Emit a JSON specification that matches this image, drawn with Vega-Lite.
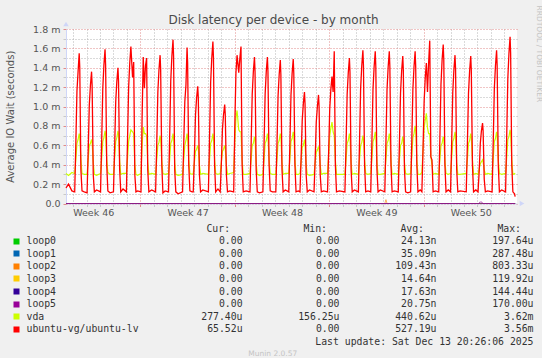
{
"$schema":"https://vega.github.io/schema/vega-lite/v6.json",
"background":"#f0f0f0",
"padding":{"left":4,"top":5,"right":0,"bottom":0},
"config":{"view":{"stroke":null}},
"spacing":6,
"datasets":{
"main":[
{"t":"2025-11-10T11:30Z","lv":0.16,"vda":0.31},{"t":"2025-11-10T16:00Z","lv":0.2,"vda":0.29},{"t":"2025-11-10T22:00Z","lv":0.13,"vda":0.32},
{"t":"2025-11-11T03:00Z","lv":0.12,"vda":0.31},{"t":"2025-11-11T05:00Z","lv":0.62,"vda":0.45},{"t":"2025-11-11T07:00Z","lv":1.16,"vda":0.62},{"t":"2025-11-11T09:00Z","lv":1.36,"vda":0.66},{"t":"2025-11-11T11:00Z","lv":1.55,"vda":0.72},{"t":"2025-11-11T12:00Z","lv":1.4,"vda":0.68},{"t":"2025-11-11T14:00Z","lv":0.35,"vda":0.45},{"t":"2025-11-11T16:00Z","lv":0.13,"vda":0.31},{"t":"2025-11-11T20:00Z","lv":0.12,"vda":0.3},
{"t":"2025-11-12T01:00Z","lv":0.11,"vda":0.3},{"t":"2025-11-12T03:00Z","lv":0.54,"vda":0.45},{"t":"2025-11-12T05:00Z","lv":1.02,"vda":0.6},{"t":"2025-11-12T07:00Z","lv":1.22,"vda":0.62},{"t":"2025-11-12T09:00Z","lv":1.36,"vda":0.66},{"t":"2025-11-12T10:00Z","lv":1.22,"vda":0.63},{"t":"2025-11-12T12:00Z","lv":0.3,"vda":0.42},{"t":"2025-11-12T14:00Z","lv":0.12,"vda":0.3},{"t":"2025-11-12T18:00Z","lv":0.14,"vda":0.29},
{"t":"2025-11-13T01:00Z","lv":0.12,"vda":0.31},{"t":"2025-11-13T03:00Z","lv":0.64,"vda":0.46},{"t":"2025-11-13T05:00Z","lv":1.19,"vda":0.64},{"t":"2025-11-13T07:00Z","lv":1.43,"vda":0.68},{"t":"2025-11-13T09:00Z","lv":1.59,"vda":0.75},{"t":"2025-11-13T10:00Z","lv":1.43,"vda":0.71},{"t":"2025-11-13T12:00Z","lv":0.4,"vda":0.45},{"t":"2025-11-13T14:00Z","lv":0.13,"vda":0.32},{"t":"2025-11-13T18:00Z","lv":0.11,"vda":0.3},
{"t":"2025-11-14T00:00Z","lv":0.12,"vda":0.3},{"t":"2025-11-14T02:00Z","lv":0.56,"vda":0.46},{"t":"2025-11-14T04:00Z","lv":1.05,"vda":0.64},{"t":"2025-11-14T06:00Z","lv":1.26,"vda":0.68},{"t":"2025-11-14T08:00Z","lv":1.4,"vda":0.75},{"t":"2025-11-14T09:00Z","lv":1.26,"vda":0.71},{"t":"2025-11-14T11:00Z","lv":0.35,"vda":0.44},{"t":"2025-11-14T13:00Z","lv":0.12,"vda":0.3},{"t":"2025-11-14T17:00Z","lv":0.15,"vda":0.31},
{"t":"2025-11-14T23:00Z","lv":0.12,"vda":0.31},{"t":"2025-11-15T01:00Z","lv":0.65,"vda":0.46},{"t":"2025-11-15T03:00Z","lv":1.2,"vda":0.64},{"t":"2025-11-15T05:00Z","lv":1.45,"vda":0.7},{"t":"2025-11-15T07:00Z","lv":1.62,"vda":0.76},{"t":"2025-11-15T10:00Z","lv":1.3,"vda":0.74},{"t":"2025-11-15T12:00Z","lv":1.46,"vda":0.72},{"t":"2025-11-15T14:00Z","lv":0.3,"vda":0.4},{"t":"2025-11-15T16:00Z","lv":0.12,"vda":0.3},{"t":"2025-11-15T19:00Z","lv":0.13,"vda":0.29},
{"t":"2025-11-16T01:00Z","lv":0.12,"vda":0.31},{"t":"2025-11-16T03:00Z","lv":0.9,"vda":0.6},{"t":"2025-11-16T05:00Z","lv":1.51,"vda":0.79},{"t":"2025-11-16T07:00Z","lv":1.19,"vda":0.72},{"t":"2025-11-16T09:00Z","lv":1.42,"vda":0.72},{"t":"2025-11-16T11:00Z","lv":1.5,"vda":0.7},{"t":"2025-11-16T13:00Z","lv":0.35,"vda":0.42},{"t":"2025-11-16T15:00Z","lv":0.12,"vda":0.3},{"t":"2025-11-16T20:00Z","lv":0.14,"vda":0.31},
{"t":"2025-11-17T03:00Z","lv":0.12,"vda":0.3},{"t":"2025-11-17T05:00Z","lv":0.61,"vda":0.45},{"t":"2025-11-17T07:00Z","lv":1.15,"vda":0.6},{"t":"2025-11-17T09:00Z","lv":1.38,"vda":0.63},{"t":"2025-11-17T11:00Z","lv":1.53,"vda":0.7},{"t":"2025-11-17T12:00Z","lv":1.38,"vda":0.66},{"t":"2025-11-17T14:00Z","lv":0.4,"vda":0.44},{"t":"2025-11-17T16:00Z","lv":0.11,"vda":0.31},{"t":"2025-11-17T20:00Z","lv":0.13,"vda":0.3},
{"t":"2025-11-18T02:00Z","lv":0.12,"vda":0.31},{"t":"2025-11-18T04:00Z","lv":0.68,"vda":0.45},{"t":"2025-11-18T06:00Z","lv":1.27,"vda":0.62},{"t":"2025-11-18T08:00Z","lv":1.52,"vda":0.65},{"t":"2025-11-18T10:00Z","lv":1.69,"vda":0.72},{"t":"2025-11-18T11:00Z","lv":1.52,"vda":0.68},{"t":"2025-11-18T13:00Z","lv":0.35,"vda":0.42},{"t":"2025-11-18T15:00Z","lv":0.12,"vda":0.3},{"t":"2025-11-18T19:00Z","lv":0.1,"vda":0.29},
{"t":"2025-11-19T03:00Z","lv":0.12,"vda":0.3},{"t":"2025-11-19T05:00Z","lv":0.6,"vda":0.45},{"t":"2025-11-19T07:00Z","lv":1.05,"vda":0.6},{"t":"2025-11-19T09:00Z","lv":1.22,"vda":0.65},{"t":"2025-11-19T11:00Z","lv":1.61,"vda":0.72},{"t":"2025-11-19T12:00Z","lv":1.45,"vda":0.68},{"t":"2025-11-19T14:00Z","lv":0.4,"vda":0.45},{"t":"2025-11-19T16:00Z","lv":0.13,"vda":0.31},{"t":"2025-11-19T20:00Z","lv":0.12,"vda":0.3},
{"t":"2025-11-19T22:00Z","lv":0.12,"vda":0.31},{"t":"2025-11-20T00:00Z","lv":0.48,"vda":0.42},{"t":"2025-11-20T02:00Z","lv":0.91,"vda":0.54},{"t":"2025-11-20T04:00Z","lv":1.09,"vda":0.56},{"t":"2025-11-20T06:00Z","lv":1.21,"vda":0.6},{"t":"2025-11-20T07:00Z","lv":1.09,"vda":0.57},{"t":"2025-11-20T09:00Z","lv":0.3,"vda":0.4},{"t":"2025-11-20T11:00Z","lv":0.12,"vda":0.3},{"t":"2025-11-20T15:00Z","lv":0.14,"vda":0.31},
{"t":"2025-11-21T01:00Z","lv":0.12,"vda":0.3},{"t":"2025-11-21T03:00Z","lv":0.67,"vda":0.45},{"t":"2025-11-21T05:00Z","lv":1.25,"vda":0.62},{"t":"2025-11-21T07:00Z","lv":1.5,"vda":0.65},{"t":"2025-11-21T09:00Z","lv":1.67,"vda":0.72},{"t":"2025-11-21T10:00Z","lv":1.5,"vda":0.68},{"t":"2025-11-21T12:00Z","lv":0.4,"vda":0.45},{"t":"2025-11-21T14:00Z","lv":0.12,"vda":0.31},{"t":"2025-11-21T18:00Z","lv":0.15,"vda":0.3},
{"t":"2025-11-21T22:00Z","lv":0.12,"vda":0.31},{"t":"2025-11-22T00:00Z","lv":0.41,"vda":0.42},{"t":"2025-11-22T02:00Z","lv":0.77,"vda":0.54},{"t":"2025-11-22T04:00Z","lv":0.92,"vda":0.56},{"t":"2025-11-22T06:00Z","lv":1.02,"vda":0.6},{"t":"2025-11-22T07:00Z","lv":0.92,"vda":0.57},{"t":"2025-11-22T09:00Z","lv":0.3,"vda":0.4},{"t":"2025-11-22T11:00Z","lv":0.12,"vda":0.3},{"t":"2025-11-22T15:00Z","lv":0.13,"vda":0.31},
{"t":"2025-11-22T22:00Z","lv":0.12,"vda":0.32},{"t":"2025-11-23T00:00Z","lv":0.8,"vda":0.65},{"t":"2025-11-23T02:00Z","lv":1.35,"vda":0.88},{"t":"2025-11-23T04:00Z","lv":1.53,"vda":0.96},{"t":"2025-11-23T07:00Z","lv":1.35,"vda":0.76},{"t":"2025-11-23T09:00Z","lv":1.5,"vda":0.74},{"t":"2025-11-23T11:00Z","lv":1.62,"vda":0.74},{"t":"2025-11-23T13:00Z","lv":0.4,"vda":0.45},{"t":"2025-11-23T15:00Z","lv":0.12,"vda":0.3},{"t":"2025-11-23T20:00Z","lv":0.13,"vda":0.3},
{"t":"2025-11-24T03:00Z","lv":0.12,"vda":0.31},{"t":"2025-11-24T05:00Z","lv":0.6,"vda":0.45},{"t":"2025-11-24T07:00Z","lv":1.13,"vda":0.6},{"t":"2025-11-24T09:00Z","lv":1.36,"vda":0.62},{"t":"2025-11-24T11:00Z","lv":1.51,"vda":0.69},{"t":"2025-11-24T12:00Z","lv":1.36,"vda":0.66},{"t":"2025-11-24T14:00Z","lv":0.35,"vda":0.42},{"t":"2025-11-24T16:00Z","lv":0.12,"vda":0.3},{"t":"2025-11-24T20:00Z","lv":0.11,"vda":0.29},
{"t":"2025-11-25T02:00Z","lv":0.12,"vda":0.3},{"t":"2025-11-25T04:00Z","lv":0.6,"vda":0.45},{"t":"2025-11-25T06:00Z","lv":1.13,"vda":0.62},{"t":"2025-11-25T08:00Z","lv":1.36,"vda":0.65},{"t":"2025-11-25T10:00Z","lv":1.51,"vda":0.72},{"t":"2025-11-25T11:00Z","lv":1.36,"vda":0.68},{"t":"2025-11-25T13:00Z","lv":0.4,"vda":0.45},{"t":"2025-11-25T15:00Z","lv":0.13,"vda":0.31},{"t":"2025-11-25T19:00Z","lv":0.12,"vda":0.3},
{"t":"2025-11-26T01:00Z","lv":0.12,"vda":0.3},{"t":"2025-11-26T03:00Z","lv":0.59,"vda":0.45},{"t":"2025-11-26T05:00Z","lv":1.11,"vda":0.62},{"t":"2025-11-26T07:00Z","lv":1.33,"vda":0.65},{"t":"2025-11-26T09:00Z","lv":1.48,"vda":0.72},{"t":"2025-11-26T10:00Z","lv":1.33,"vda":0.68},{"t":"2025-11-26T12:00Z","lv":0.35,"vda":0.42},{"t":"2025-11-26T14:00Z","lv":0.12,"vda":0.3},{"t":"2025-11-26T18:00Z","lv":0.14,"vda":0.31},
{"t":"2025-11-27T00:00Z","lv":0.12,"vda":0.31},{"t":"2025-11-27T02:00Z","lv":0.6,"vda":0.46},{"t":"2025-11-27T04:00Z","lv":1.12,"vda":0.64},{"t":"2025-11-27T06:00Z","lv":1.34,"vda":0.67},{"t":"2025-11-27T08:00Z","lv":1.49,"vda":0.74},{"t":"2025-11-27T09:00Z","lv":1.34,"vda":0.7},{"t":"2025-11-27T11:00Z","lv":0.4,"vda":0.45},{"t":"2025-11-27T13:00Z","lv":0.12,"vda":0.3},{"t":"2025-11-27T17:00Z","lv":0.13,"vda":0.3},
{"t":"2025-11-27T20:00Z","lv":0.12,"vda":0.31},{"t":"2025-11-27T22:00Z","lv":0.46,"vda":0.43},{"t":"2025-11-28T00:00Z","lv":0.86,"vda":0.58},{"t":"2025-11-28T02:00Z","lv":1.03,"vda":0.6},{"t":"2025-11-28T04:00Z","lv":1.15,"vda":0.66},{"t":"2025-11-28T05:00Z","lv":1.03,"vda":0.62},{"t":"2025-11-28T07:00Z","lv":0.3,"vda":0.4},{"t":"2025-11-28T09:00Z","lv":0.12,"vda":0.3},{"t":"2025-11-28T13:00Z","lv":0.14,"vda":0.29},
{"t":"2025-11-28T21:00Z","lv":0.12,"vda":0.3},{"t":"2025-11-28T23:00Z","lv":0.45,"vda":0.42},{"t":"2025-11-29T01:00Z","lv":0.84,"vda":0.53},{"t":"2025-11-29T03:00Z","lv":1.0,"vda":0.55},{"t":"2025-11-29T05:00Z","lv":1.12,"vda":0.59},{"t":"2025-11-29T06:00Z","lv":1.0,"vda":0.56},{"t":"2025-11-29T08:00Z","lv":0.3,"vda":0.4},{"t":"2025-11-29T10:00Z","lv":0.12,"vda":0.3},{"t":"2025-11-29T14:00Z","lv":0.13,"vda":0.31},
{"t":"2025-11-29T21:00Z","lv":0.12,"vda":0.31},{"t":"2025-11-29T23:00Z","lv":0.52,"vda":0.5},{"t":"2025-11-30T01:00Z","lv":0.98,"vda":0.7},{"t":"2025-11-30T03:00Z","lv":1.18,"vda":0.78},{"t":"2025-11-30T05:00Z","lv":1.31,"vda":0.84},{"t":"2025-11-30T07:00Z","lv":1.15,"vda":0.74},{"t":"2025-11-30T09:00Z","lv":1.57,"vda":0.7},{"t":"2025-11-30T11:00Z","lv":0.4,"vda":0.45},{"t":"2025-11-30T13:00Z","lv":0.12,"vda":0.3},{"t":"2025-11-30T18:00Z","lv":0.13,"vda":0.3},
{"t":"2025-12-01T04:00Z","lv":0.12,"vda":0.3},{"t":"2025-12-01T06:00Z","lv":0.6,"vda":0.45},{"t":"2025-12-01T08:00Z","lv":1.13,"vda":0.62},{"t":"2025-12-01T10:00Z","lv":1.35,"vda":0.65},{"t":"2025-12-01T12:00Z","lv":1.5,"vda":0.72},{"t":"2025-12-01T13:00Z","lv":1.35,"vda":0.68},{"t":"2025-12-01T15:00Z","lv":0.35,"vda":0.42},{"t":"2025-12-01T17:00Z","lv":0.12,"vda":0.3},{"t":"2025-12-01T21:00Z","lv":0.14,"vda":0.31},
{"t":"2025-12-02T04:00Z","lv":0.12,"vda":0.3},{"t":"2025-12-02T06:00Z","lv":0.63,"vda":0.45},{"t":"2025-12-02T08:00Z","lv":1.19,"vda":0.6},{"t":"2025-12-02T10:00Z","lv":1.42,"vda":0.63},{"t":"2025-12-02T12:00Z","lv":1.58,"vda":0.7},{"t":"2025-12-02T13:00Z","lv":1.42,"vda":0.66},{"t":"2025-12-02T15:00Z","lv":0.4,"vda":0.45},{"t":"2025-12-02T17:00Z","lv":0.12,"vda":0.31},{"t":"2025-12-02T21:00Z","lv":0.13,"vda":0.3},
{"t":"2025-12-03T02:00Z","lv":0.12,"vda":0.31},{"t":"2025-12-03T04:00Z","lv":0.63,"vda":0.46},{"t":"2025-12-03T06:00Z","lv":1.18,"vda":0.64},{"t":"2025-12-03T08:00Z","lv":1.41,"vda":0.67},{"t":"2025-12-03T10:00Z","lv":1.57,"vda":0.74},{"t":"2025-12-03T11:00Z","lv":1.41,"vda":0.7},{"t":"2025-12-03T13:00Z","lv":0.35,"vda":0.42},{"t":"2025-12-03T15:00Z","lv":0.12,"vda":0.3},{"t":"2025-12-03T19:00Z","lv":0.14,"vda":0.3},
{"t":"2025-12-04T03:00Z","lv":0.12,"vda":0.31},{"t":"2025-12-04T05:00Z","lv":0.63,"vda":0.45},{"t":"2025-12-04T07:00Z","lv":1.18,"vda":0.62},{"t":"2025-12-04T09:00Z","lv":1.41,"vda":0.65},{"t":"2025-12-04T11:00Z","lv":1.57,"vda":0.72},{"t":"2025-12-04T12:00Z","lv":1.41,"vda":0.68},{"t":"2025-12-04T14:00Z","lv":0.4,"vda":0.44},{"t":"2025-12-04T16:00Z","lv":0.12,"vda":0.3},{"t":"2025-12-04T20:00Z","lv":0.13,"vda":0.31},
{"t":"2025-12-05T03:00Z","lv":0.12,"vda":0.3},{"t":"2025-12-05T05:00Z","lv":0.61,"vda":0.45},{"t":"2025-12-05T07:00Z","lv":1.14,"vda":0.6},{"t":"2025-12-05T09:00Z","lv":1.37,"vda":0.62},{"t":"2025-12-05T11:00Z","lv":1.52,"vda":0.69},{"t":"2025-12-05T12:00Z","lv":1.37,"vda":0.66},{"t":"2025-12-05T14:00Z","lv":0.35,"vda":0.42},{"t":"2025-12-05T16:00Z","lv":0.12,"vda":0.31},{"t":"2025-12-05T20:00Z","lv":0.11,"vda":0.3},
{"t":"2025-12-06T01:00Z","lv":0.12,"vda":0.31},{"t":"2025-12-06T03:00Z","lv":0.63,"vda":0.48},{"t":"2025-12-06T05:00Z","lv":1.18,"vda":0.68},{"t":"2025-12-06T07:00Z","lv":1.41,"vda":0.72},{"t":"2025-12-06T09:00Z","lv":1.57,"vda":0.8},{"t":"2025-12-06T10:00Z","lv":1.41,"vda":0.76},{"t":"2025-12-06T12:00Z","lv":0.4,"vda":0.45},{"t":"2025-12-06T14:00Z","lv":0.12,"vda":0.3},{"t":"2025-12-06T18:00Z","lv":0.14,"vda":0.3},
{"t":"2025-12-06T21:00Z","lv":0.12,"vda":0.32},{"t":"2025-12-06T23:00Z","lv":0.55,"vda":0.55},{"t":"2025-12-07T01:00Z","lv":1.05,"vda":0.78},{"t":"2025-12-07T03:00Z","lv":1.3,"vda":0.86},{"t":"2025-12-07T05:00Z","lv":1.45,"vda":0.93},{"t":"2025-12-07T07:00Z","lv":1.15,"vda":0.78},{"t":"2025-12-07T09:00Z","lv":1.45,"vda":0.72},{"t":"2025-12-07T11:00Z","lv":1.68,"vda":0.72},{"t":"2025-12-07T13:00Z","lv":0.48,"vda":0.48},{"t":"2025-12-07T15:00Z","lv":0.45,"vda":0.4},{"t":"2025-12-07T17:00Z","lv":0.12,"vda":0.3},{"t":"2025-12-07T21:00Z","lv":0.13,"vda":0.31},
{"t":"2025-12-08T03:00Z","lv":0.12,"vda":0.3},{"t":"2025-12-08T05:00Z","lv":0.66,"vda":0.45},{"t":"2025-12-08T07:00Z","lv":1.23,"vda":0.6},{"t":"2025-12-08T09:00Z","lv":1.48,"vda":0.62},{"t":"2025-12-08T11:00Z","lv":1.64,"vda":0.69},{"t":"2025-12-08T12:00Z","lv":1.48,"vda":0.66},{"t":"2025-12-08T14:00Z","lv":0.4,"vda":0.44},{"t":"2025-12-08T16:00Z","lv":0.12,"vda":0.31},{"t":"2025-12-08T20:00Z","lv":0.14,"vda":0.3},
{"t":"2025-12-09T00:00Z","lv":0.12,"vda":0.31},{"t":"2025-12-09T02:00Z","lv":0.61,"vda":0.46},{"t":"2025-12-09T04:00Z","lv":1.15,"vda":0.64},{"t":"2025-12-09T06:00Z","lv":1.38,"vda":0.67},{"t":"2025-12-09T08:00Z","lv":1.53,"vda":0.74},{"t":"2025-12-09T09:00Z","lv":1.38,"vda":0.7},{"t":"2025-12-09T11:00Z","lv":0.35,"vda":0.42},{"t":"2025-12-09T13:00Z","lv":0.12,"vda":0.3},{"t":"2025-12-09T17:00Z","lv":0.13,"vda":0.3},
{"t":"2025-12-10T04:00Z","lv":0.12,"vda":0.31},{"t":"2025-12-10T06:00Z","lv":0.61,"vda":0.45},{"t":"2025-12-10T08:00Z","lv":1.14,"vda":0.62},{"t":"2025-12-10T10:00Z","lv":1.37,"vda":0.65},{"t":"2025-12-10T12:00Z","lv":1.52,"vda":0.72},{"t":"2025-12-10T13:00Z","lv":1.37,"vda":0.68},{"t":"2025-12-10T15:00Z","lv":0.4,"vda":0.45},{"t":"2025-12-10T17:00Z","lv":0.12,"vda":0.3},{"t":"2025-12-10T21:00Z","lv":0.14,"vda":0.31},
{"t":"2025-12-11T01:00Z","lv":0.12,"vda":0.3},{"t":"2025-12-11T03:00Z","lv":0.33,"vda":0.36},{"t":"2025-12-11T05:00Z","lv":0.62,"vda":0.41},{"t":"2025-12-11T07:00Z","lv":0.75,"vda":0.43},{"t":"2025-12-11T09:00Z","lv":0.83,"vda":0.45},{"t":"2025-12-11T10:00Z","lv":0.75,"vda":0.43},{"t":"2025-12-11T12:00Z","lv":0.25,"vda":0.35},{"t":"2025-12-11T14:00Z","lv":0.12,"vda":0.3},{"t":"2025-12-11T18:00Z","lv":0.13,"vda":0.31},
{"t":"2025-12-12T02:00Z","lv":0.12,"vda":0.3},{"t":"2025-12-12T04:00Z","lv":0.63,"vda":0.46},{"t":"2025-12-12T06:00Z","lv":1.19,"vda":0.64},{"t":"2025-12-12T08:00Z","lv":1.42,"vda":0.67},{"t":"2025-12-12T10:00Z","lv":1.58,"vda":0.74},{"t":"2025-12-12T11:00Z","lv":1.42,"vda":0.7},{"t":"2025-12-12T13:00Z","lv":0.4,"vda":0.45},{"t":"2025-12-12T15:00Z","lv":0.12,"vda":0.31},{"t":"2025-12-12T19:00Z","lv":0.14,"vda":0.3},
{"t":"2025-12-13T02:00Z","lv":0.12,"vda":0.31},{"t":"2025-12-13T04:00Z","lv":0.69,"vda":0.47},{"t":"2025-12-13T06:00Z","lv":1.29,"vda":0.66},{"t":"2025-12-13T08:00Z","lv":1.55,"vda":0.69},{"t":"2025-12-13T10:00Z","lv":1.72,"vda":0.76},{"t":"2025-12-13T11:00Z","lv":1.55,"vda":0.72},{"t":"2025-12-13T13:00Z","lv":0.4,"vda":0.45},{"t":"2025-12-13T15:00Z","lv":0.12,"vda":0.3},{"t":"2025-12-13T18:00Z","lv":0.1,"vda":0.31},{"t":"2025-12-13T19:00Z","lv":0.07,"vda":0.3}
],
"loops":[
{"t":"2025-11-10T11:30Z","s":"loop0","v":0},{"t":"2025-12-13T19:00Z","s":"loop0","v":0},
{"t":"2025-11-10T11:30Z","s":"loop1","v":0},{"t":"2025-12-13T19:00Z","s":"loop1","v":0},
{"t":"2025-11-10T11:30Z","s":"loop2","v":0},{"t":"2025-12-04T03:00Z","s":"loop2","v":0},{"t":"2025-12-04T05:00Z","s":"loop2","v":0.04},{"t":"2025-12-04T07:00Z","s":"loop2","v":0},{"t":"2025-12-13T19:00Z","s":"loop2","v":0},
{"t":"2025-11-10T11:30Z","s":"loop3","v":0},{"t":"2025-12-13T19:00Z","s":"loop3","v":0},
{"t":"2025-11-10T11:30Z","s":"loop4","v":0},{"t":"2025-12-13T19:00Z","s":"loop4","v":0},
{"t":"2025-11-10T11:30Z","s":"loop5","v":0},{"t":"2025-12-11T03:00Z","s":"loop5","v":0},{"t":"2025-12-11T04:00Z","s":"loop5","v":0.015},{"t":"2025-12-11T08:00Z","s":"loop5","v":0.015},{"t":"2025-12-11T09:00Z","s":"loop5","v":0},{"t":"2025-12-13T19:00Z","s":"loop5","v":0}
],
"table":[
{"name":"loop0","Cur":"0.00\u00a0","Min":"0.00\u00a0","Avg":"24.13n","Max":"197.64u"},
{"name":"loop1","Cur":"0.00\u00a0","Min":"0.00\u00a0","Avg":"35.09n","Max":"287.48u"},
{"name":"loop2","Cur":"0.00\u00a0","Min":"0.00\u00a0","Avg":"109.43n","Max":"803.33u"},
{"name":"loop3","Cur":"0.00\u00a0","Min":"0.00\u00a0","Avg":"14.64n","Max":"119.92u"},
{"name":"loop4","Cur":"0.00\u00a0","Min":"0.00\u00a0","Avg":"17.63n","Max":"144.44u"},
{"name":"loop5","Cur":"0.00\u00a0","Min":"0.00\u00a0","Avg":"20.75n","Max":"170.00u"},
{"name":"vda","Cur":"277.40u","Min":"156.25u","Avg":"440.62u","Max":"3.62m"},
{"name":"ubuntu-vg/ubuntu-lv","Cur":"65.52u","Min":"0.00\u00a0","Avg":"527.19u","Max":"3.56m"},
{"name":"last","Max":"Last update: Sat Dec 13 20:26:06 2025"}
]
},
"vconcat":[
{
"width":451,"height":174.5,
"view":{"fill":"white"},
"layer":[
{"data":{"name":"loops"},
 "mark":{"type":"line","strokeWidth":1,"strokeOpacity":0.6},
 "encoding":{
  "x":{"field":"t","type":"temporal","scale":{"type":"utc","domain":[{"year":2025,"month":11,"date":10,"hours":11,"minutes":30,"utc":true},{"year":2025,"month":12,"date":13,"hours":22,"minutes":20,"utc":true}]},
   "axis":{"orient":"bottom","title":null,"tickCount":{"interval":"day","step":1},"grid":true,
    "gridColor":{"condition":{"test":"utcday(datum.value) === 0","value":"#e08a8a"},"value":"#b4b4b4"},
    "gridDash":[1,2],"gridWidth":1,"gridOpacity":1,"ticks":true,"tickSize":3,
    "tickColor":{"condition":{"test":"utcday(datum.value) === 0","value":"#e08a8a"},"value":"#c8c8c8"},
    "domain":true,"domainColor":"#cfd6f8",
    "labelExpr":"utcday(datum.value) === 3 ? utcFormat(datum.value, 'Week %V') : ''",
    "labelOffset":6.74,"labelOverlap":false,"labelFlush":false,"labelPadding":1,"labelAngle":0,
    "labelFont":"DejaVu Sans","labelFontSize":9.5,"labelColor":"#555555","labelAlign":"center","labelBaseline":"top"}},
  "y":{"field":"v","type":"quantitative","scale":{"domain":[0,1.8],"nice":false},
   "axis":{"orient":"left","values":[0,0.1,0.2,0.3,0.4,0.5,0.6,0.7,0.8,0.9,1,1.1,1.2,1.3,1.4,1.5,1.6,1.7,1.8],
    "title":"Average IO Wait (seconds)","titleX":-56,"titleY":87.25,"titleAlign":"center","titleBaseline":"middle",
    "titleFont":"DejaVu Sans","titleFontSize":10,"titleFontWeight":"normal","titleColor":"#555555",
    "grid":true,"gridColor":{"condition":{"test":"round(datum.value*10) % 2 === 0","value":"#e08a8a"},"value":"#b4b4b4"},
    "gridDash":[1,2],"gridOpacity":1,"tickSize":3,
    "tickColor":{"condition":{"test":"round(datum.value*10) % 2 === 0","value":"#e08a8a"},"value":"#c8c8c8"},
    "labelExpr":"round(datum.value*10) % 2 === 0 ? (datum.value === 0 ? '0.0' : format(datum.value, '.1f') + ' m') : ''",
    "labelPadding":3,"labelFont":"DejaVu Sans","labelFontSize":9.5,"labelColor":"#555555","labelOverlap":false,"labelFlush":false,
    "domainColor":"#cfd6f8"}},
  "color":{"field":"s","type":"nominal","legend":null,
   "scale":{"domain":["loop0","loop1","loop2","loop3","loop4","loop5"],"range":["#00cc00","#0066b3","#ff8000","#ffcc00","#330099","#990099"]}}
 }},
{"data":{"name":"main"},
 "mark":{"type":"line","color":"#ccff00","strokeWidth":1.2},
 "encoding":{
  "x":{"field":"t","type":"temporal",
   "axis":{"orient":"top","title":"Disk latency per device - by month","titleX":207,"titleY":-10,"titleAlign":"center","titleBaseline":"middle",
    "titleFont":"DejaVu Sans","titleFontSize":12,"titleFontWeight":"normal","titleColor":"#4a4a4a",
    "labels":false,"ticks":false,"domain":false,"grid":false}},
  "y":{"field":"vda","type":"quantitative",
   "axis":{"orient":"right","title":"RRDTOOL / TOBI OETIKER","titleAngle":90,"titleX":21,"titleY":-24,"titleAlign":"left","titleBaseline":"middle",
    "titleFont":"DejaVu Sans","titleFontSize":7.5,"titleFontWeight":"normal","titleColor":"#c4c4c4",
    "labels":false,"ticks":false,"domain":false,"grid":false}}
 }},
{"data":{"name":"main"},
 "mark":{"type":"line","color":"#ff0000","strokeWidth":1.3},
 "encoding":{
  "x":{"field":"t","type":"temporal","axis":null},
  "y":{"field":"lv","type":"quantitative","axis":null}
 }},
{"data":{"values":[{}]},
 "mark":{"type":"point","shape":"triangle-up","filled":true,"size":30,"color":"#cfd6f8","opacity":1,"yOffset":-5},
 "encoding":{
  "x":{"datum":{"year":2025,"month":11,"date":10,"hours":11,"minutes":30,"utc":true},"type":"temporal","axis":null},
  "y":{"datum":1.8,"type":"quantitative","axis":null}
 }},
{"data":{"values":[{}]},
 "mark":{"type":"point","shape":"triangle-right","filled":true,"size":30,"color":"#cfd6f8","opacity":1,"xOffset":5},
 "encoding":{
  "x":{"datum":{"year":2025,"month":12,"date":13,"hours":22,"minutes":20,"utc":true},"type":"temporal","axis":null},
  "y":{"datum":0,"type":"quantitative","axis":null}
 }}
],
"resolve":{"axis":{"x":"independent","y":"independent"}}
},
{
"width":467.5,"height":113,
"title":{"text":"Munin 2.0.57","orient":"bottom","anchor":"middle","frame":"group","dx":-27,"offset":2,"fontSize":7.5,"font":"DejaVu Sans","fontWeight":"normal","color":"#c4c4c4","baseline":"top"},
"data":{"name":"table"},
"transform":[{"fold":["Cur","Min","Avg","Max"]},{"filter":"datum.value != null"}],
"mark":{"type":"text","align":"right","baseline":"middle","font":"DejaVu Sans Mono","fontSize":9.8,"color":"#333333"},
"encoding":{
 "x":{"field":"key","type":"nominal","bandPosition":1,
  "scale":{"type":"band","domain":["Cur","Min","Avg","Max"],"paddingInner":0,"paddingOuter":0.41,"align":1},
  "axis":{"orient":"top","title":null,"domain":false,"grid":false,"ticks":false,"labelExpr":"datum.value + ':'","labelAlign":"right","labelOffset":36,"labelPadding":2,"labelAngle":0,
   "labelFont":"DejaVu Sans Mono","labelFontSize":9.8,"labelColor":"#333333"}},
 "y":{"field":"name","type":"nominal",
  "scale":{"type":"band","domain":["loop0","loop1","loop2","loop3","loop4","loop5","vda","ubuntu-vg/ubuntu-lv","last"],"paddingInner":0,"paddingOuter":0},
  "axis":{"orient":"left","title":null,"domain":false,"grid":false,"offset":47,"ticks":true,"tickSize":6,"tickWidth":6,"tickOpacity":1,
   "tickColor":{"condition":[
    {"test":"datum.value === 'loop0'","value":"#00cc00"},
    {"test":"datum.value === 'loop1'","value":"#0066b3"},
    {"test":"datum.value === 'loop2'","value":"#ff8000"},
    {"test":"datum.value === 'loop3'","value":"#ffcc00"},
    {"test":"datum.value === 'loop4'","value":"#330099"},
    {"test":"datum.value === 'loop5'","value":"#990099"},
    {"test":"datum.value === 'vda'","value":"#ccff00"},
    {"test":"datum.value === 'ubuntu-vg/ubuntu-lv'","value":"#ff0000"}],"value":"transparent"},
   "labelAlign":"left","labelBaseline":"middle","labelPadding":-13,"labelOverlap":false,
   "labelExpr":"datum.value === 'last' ? '' : datum.value",
   "labelFont":"DejaVu Sans Mono","labelFontSize":9.8,"labelColor":"#333333"}},
 "text":{"field":"value","type":"nominal"}
}
}
]
}
